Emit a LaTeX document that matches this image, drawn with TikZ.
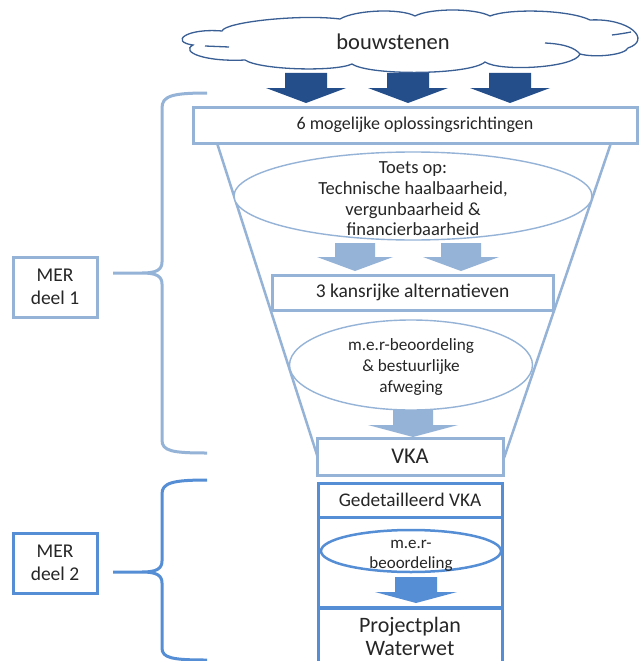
\documentclass[tikz,border=0pt]{standalone}
\usepackage{fontspec}
\setmainfont{Carlito}
\usetikzlibrary{shapes.geometric}
\definecolor{lightb}{HTML}{95B3D7}
\definecolor{darkb}{HTML}{234E8A}
\definecolor{midb}{HTML}{558ED5}
\definecolor{cloudc}{HTML}{3A5F95}
\definecolor{txt}{HTML}{262626}
\newcommand\blockarr[7]{%
  \fill[#7] (#1-#5,#2) -- (#1+#5,#2) -- (#1+#5,#3) -- (#1+#6,#3) -- (#1,#4) -- (#1-#6,#3) -- (#1-#5,#3) -- cycle;}
\begin{document}
\begin{tikzpicture}[x=1pt,y=-1pt,
  every node/.style={text=txt},
  lbox/.style={draw=lightb, line width=3pt, fill=white, rectangle, inner sep=0pt},
  dbox/.style={draw=midb, line width=3pt, fill=white, rectangle, inner sep=0pt},
  lell/.style={draw=lightb, line width=1.4pt, fill=white, ellipse, inner sep=0pt, align=center},
  brace1/.style={draw=lightb, line width=3pt},
  brace2/.style={draw=midb, line width=3pt},
  funnel/.style={draw=lightb, line width=2.5pt},
  cloudline/.style={draw=cloudc, line width=1.3pt}
]
\useasboundingbox (0,0) rectangle (640,661);
\clip (0,0) rectangle (640,661);
\fill[white] (0,0) rectangle (640,661);

% cloud
\draw[cloudline, fill=white] (193,45)
  .. controls (170,42) and (185,28) .. (222,31)
  .. controls (225,22) and (300,14) .. (340,19)
  .. controls (355,10) and (400,8) .. (415,16)
  .. controls (430,8) and (475,8) .. (490,16)
  .. controls (510,8) and (570,10) .. (590,20)
  .. controls (630,18) and (652,40) .. (628,48)
  .. controls (625,55) and (595,58) .. (580,54)
  .. controls (575,68) and (500,72) .. (485,62)
  .. controls (470,75) and (370,76) .. (352,64)
  .. controls (335,72) and (260,70) .. (245,60)
  .. controls (205,62) and (180,52) .. cycle;
\draw[cloudline] (205,46) -- (229,47);
\draw[cloudline] (545,43) .. controls (565,44) and (575,48) .. (580,54);
\draw[cloudline] (612,35) .. controls (620,34) and (626,33) .. (631,32);
\node[font=\fontsize{22.5}{26}\selectfont] (bouw) at (393,42) {bouwstenen};

% dark arrows
\blockarr{306}{73}{88}{103}{21}{40}{darkb}
\blockarr{408}{73}{88}{103}{21}{40}{darkb}
\blockarr{510}{73}{88}{103}{21}{40}{darkb}

% funnel
\coordinate (fl1) at (217,143);
\coordinate (fl2) at (318,458);
\coordinate (fr1) at (611,143);
\coordinate (fr2) at (504,458);
\draw[funnel] (fl1) -- (fl2);
\draw[funnel] (fr1) -- (fr2);

% boxes and ellipses of MER deel 1
\node[lbox, minimum width=444pt, minimum height=36pt, font=\fontsize{18}{21}\selectfont] (six) at (415,125) {6 mogelijke oplossingsrichtingen};
\node[lell, minimum width=358pt, minimum height=88pt] (toets) at (413,196) {};
\node[font=\fontsize{18.5}{20.7}\selectfont, align=center] (toetst) at (413,199) {Toets op:\\Technische haalbaarheid,\\vergunbaarheid \&\\financierbaarheid};
\blockarr{355}{243}{257}{271}{20}{38}{lightb}
\blockarr{461}{243}{257}{271}{20}{38}{lightb}
\node[lbox, minimum width=281pt, minimum height=35pt, font=\fontsize{19.5}{22}\selectfont] (drie) at (412.5,292.5) {3 kansrijke alternatieven};
\node[lell, minimum width=243pt, minimum height=90pt] (mer1) at (411,365) {};
\node[font=\fontsize{17.2}{20.8}\selectfont, align=center] (mer1t) at (411,367) {m.e.r-beoordeling\\\& bestuurlijke\\afweging};
\blockarr{413}{410}{425}{437}{20}{45}{lightb}
\node[lbox, minimum width=186pt, minimum height=37pt, font=\fontsize{22.5}{26}\selectfont] (vka) at (410,456.5) {VKA};

% MER deel 2 column
\node[dbox, minimum width=184pt, minimum height=34pt, font=\fontsize{19.3}{22}\selectfont] (gvka) at (410,500) {Gedetailleerd VKA};
\node[dbox, minimum width=184pt, minimum height=90pt] (mid) at (410,562) {};
\node[dbox, minimum width=184pt, minimum height=80pt, anchor=north] (proj) at (410,607) {};
\node[font=\fontsize{22}{23}\selectfont, align=center, anchor=north] (projt) at (410,614) {Projectplan\\Waterwet};
\node[draw=midb, line width=2.5pt, fill=white, ellipse, minimum width=180pt, minimum height=42pt] (mer2) at (411,551) {};
\node[font=\fontsize{17}{20}\selectfont, align=center] (mer2t) at (411,556) {m.e.r-\\beoordeling};
\blockarr{416}{577}{592}{603}{21}{41}{midb}

% MER labels
\node[draw=lightb, line width=3pt, minimum width=84pt, minimum height=60pt, align=center, inner sep=0pt, font=\fontsize{19.5}{23}\selectfont] (mer1l) at (55,287) {MER\\deel 1};
\node[draw=midb, line width=3pt, minimum width=84pt, minimum height=60pt, align=center, inner sep=0pt, font=\fontsize{19.5}{23}\selectfont] (mer2l) at (55,563) {MER\\deel 2};

% braces
\coordinate (b1t) at (207,93);
\coordinate (b1m) at (113,273);
\coordinate (b1b) at (207,453);
\draw[brace1] (b1t) .. controls (172,93) and (162,96) .. (162,108) -- (162,262)
  .. controls (162,270) and (156,273) .. (142,273) -- (b1m)
  (142,273) .. controls (156,273) and (162,276) .. (162,284) -- (162,440)
  .. controls (162,451) and (172,453) .. (b1b);
\coordinate (b2t) at (207,480);
\coordinate (b2m) at (113,572);
\coordinate (b2b) at (207,660);
\draw[brace2] (b2t) .. controls (172,480) and (162,483) .. (162,494) -- (162,561)
  .. controls (162,569) and (156,572) .. (142,572) -- (b2m)
  (142,572) .. controls (156,572) and (162,575) .. (162,583) -- (162,648)
  .. controls (162,658) and (172,660) .. (b2b);
\end{tikzpicture}
\end{document}
